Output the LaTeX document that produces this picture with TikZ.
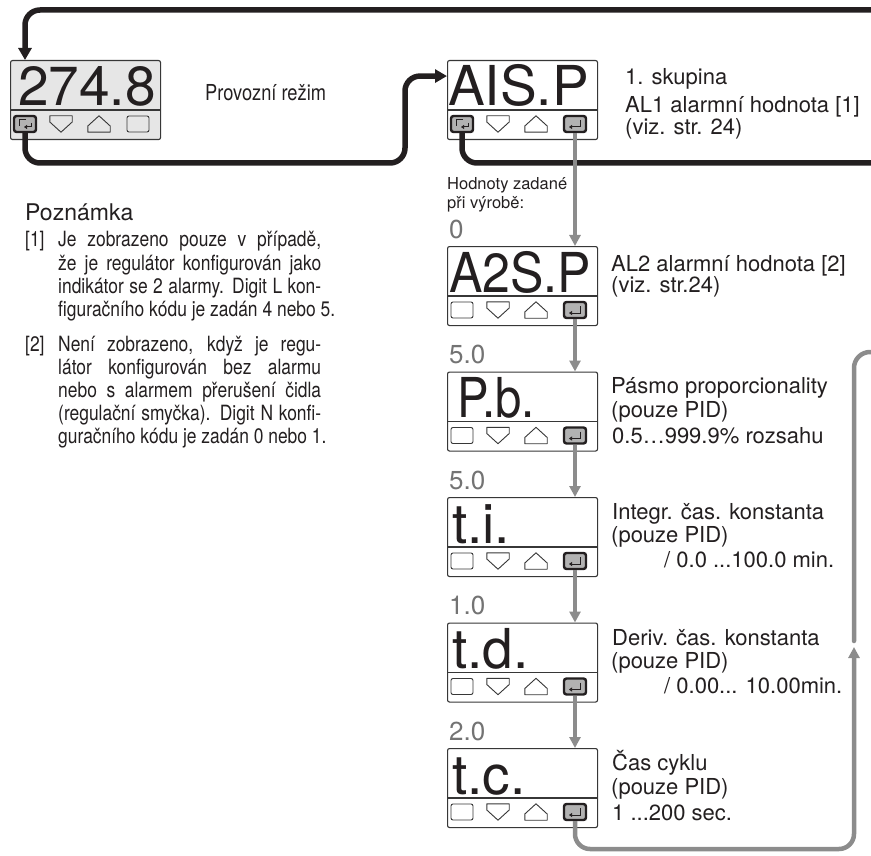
\documentclass[tikz,border=0pt]{standalone}
\usepackage{fontspec}
\setmainfont{TeX Gyre Heros}
\newfontfamily\narrowfont[FakeStretch=0.83]{TeX Gyre Heros}
\usepackage{graphicx}
\usepackage{tikz}
\usetikzlibrary{arrows.meta}
\definecolor{linkblack}{RGB}{35,31,32}
\definecolor{flowgray}{RGB}{140,140,140}
\definecolor{valgray}{RGB}{115,115,115}
\definecolor{boxgray}{RGB}{55,55,55}
\definecolor{lcdfill}{RGB}{230,230,230}
\definecolor{keyfill}{RGB}{178,178,178}
\newcommand{\noteline}[1]{\makebox[263pt][s]{#1}}
% one controller display: name, x, y, fill, reading, key 1, key 4, text offset
\newcommand{\lcdunit}[8]{%
  \node[lcdbox, fill=#4, anchor=north west] (#1) at (#2,#3) {};
  \node[lcdtext] (#1-txt) at ([shift={(#8,46)}]#1.north west) {#5};
  \draw[lcdline] ([yshift=-50pt]#1.north west) -- ([yshift=-50pt]#1.north east);
  \node[#6] (#1-k1) at ([shift={(15,64)}]#1.north west) {};
  \node[keyspace] (#1-k2) at ([shift={(51,64)}]#1.north west) {};
  \node[keyspace] (#1-k3) at ([shift={(89,64)}]#1.north west) {};
  \node[#7] (#1-k4) at ([shift={(128,64)}]#1.north west) {};
  \draw[keyline] (#1-k2.north west) -- (#1-k2.north east) -- ([yshift=2pt]#1-k2.east) -- (#1-k2.south) -- ([yshift=2pt]#1-k2.west) -- cycle;
  \draw[keyline] (#1-k3.south west) -- (#1-k3.south east) -- ([yshift=-2pt]#1-k3.east) -- (#1-k3.north) -- ([yshift=-2pt]#1-k3.west) -- cycle;
}

\begin{document}
\begin{tikzpicture}[x=1pt, y=-1pt,
    lcdbox/.style={rectangle, rounded corners=2pt, draw=boxgray, line width=1.1pt,
                minimum width=150pt, minimum height=79pt, inner sep=0pt},
    lcdtext/.style={anchor=base west, inner sep=0pt, text=linkblack, font=\fontsize{55}{55}\selectfont},
    lcdline/.style={draw=boxgray, line width=1.1pt},
    keyspace/.style={rectangle, minimum width=22pt, minimum height=16pt, inner sep=0pt},
    plainkey/.style={keyspace, draw=boxgray, line width=0.9pt, rounded corners=2pt},
    keyline/.style={draw=boxgray, line width=0.9pt, line join=round},
    darkkey/.style={keyspace, draw=linkblack, line width=2.4pt, rounded corners=2.5pt, fill=keyfill},
    enterkey/.style={darkkey, path picture={
        \draw[sharp corners, line width=1pt, linkblack, -{Triangle[length=3pt, width=4pt]}]
          ([shift={(5,-4)}]path picture bounding box.center) -- ([shift={(5,3)}]path picture bounding box.center)
          -- ([shift={(-6,3)}]path picture bounding box.center);}},
    loopkey/.style={darkkey, path picture={
        \draw[sharp corners, line width=1pt, linkblack]
          ([shift={(1,-4)}]path picture bounding box.center) -- ([shift={(-6,-4)}]path picture bounding box.center)
          -- ([shift={(-6,2)}]path picture bounding box.center);
        \draw[sharp corners, line width=1pt, linkblack, -{Triangle[length=3pt, width=4pt]}]
          ([shift={(6,-1)}]path picture bounding box.center) -- ([shift={(6,3)}]path picture bounding box.center)
          -- ([shift={(-1,3)}]path picture bounding box.center);}},
    desc/.style={anchor=base west, inner sep=0pt, text=linkblack, font=\fontsize{22}{26}\selectfont},
    notetext/.style={anchor=base west, inner sep=0pt, text=linkblack, font=\narrowfont\fontsize{21}{23}\selectfont},
    notehead/.style={anchor=base west, inner sep=0pt, text=linkblack, font=\fontsize{23}{25}\selectfont},
    factory/.style={anchor=base west, inner sep=0pt, text=linkblack, font=\fontsize{16.5}{18}\selectfont},
    preset/.style={anchor=base west, inner sep=0pt, text=valgray, font=\fontsize{26}{26}\selectfont},
    linkline/.style={draw=linkblack, line width=5.5pt},
    linkarrow/.style={linkline, -{Triangle[length=12pt, width=13pt]}},
    flowline/.style={draw=flowgray, line width=4.5pt},
    flowarrow/.style={flowline, -{Triangle[length=11pt, width=11pt]}}]
\useasboundingbox (0,0) rectangle (871,856);

\lcdunit{disp0}{10}{60}{lcdfill}{274.8}{loopkey}{plainkey}{8}
\lcdunit{aisp}{447}{60}{white}{AIS.P}{loopkey}{enterkey}{1}
\lcdunit{a2sp}{447}{246}{white}{\scalebox{0.91}[1]{A2S.P}}{plainkey}{enterkey}{2}
\lcdunit{pb}{447}{371.5}{white}{\scalebox{0.86}[1]{P.b.}}{plainkey}{enterkey}{10}
\lcdunit{ti}{447}{497}{white}{t.i.}{plainkey}{enterkey}{5}
\lcdunit{td}{447}{622.5}{white}{t.d.}{plainkey}{enterkey}{5}
\lcdunit{tc}{447}{748}{white}{t.c.}{plainkey}{enterkey}{5}

\node[notetext, font=\narrowfont\fontsize{22}{24}\selectfont] (mode) at (205,101) {Provozní režim};

\node[desc] (aisp-d1) at (625,85) {1. skupina};
\node[desc] (aisp-d2) at (625,113) {AL1 alarmní hodnota [1]};
\node[desc] (aisp-d3) at (625,135) {(viz. str. 24)};
\node[desc] (a2sp-d1) at (611,271) {AL2 alarmní hodnota [2]};
\node[desc] (a2sp-d2) at (611,292) {(viz. str.24)};
\node[desc] (pb-d1) at (611,393) {Pásmo proporcionality};
\node[desc] (pb-d2) at (611,417) {(pouze PID)};
\node[desc] (pb-d3) at (612,443) {0.5…999.9\% rozsahu};
\node[desc] (ti-d1) at (612,519) {Integr. čas. konstanta};
\node[desc] (ti-d2) at (611,542) {(pouze PID)};
\node[desc] (ti-d3) at (664,567) {/ 0.0 ...100.0 min.};
\node[desc] (td-d1) at (612,645) {Deriv. čas. konstanta};
\node[desc] (td-d2) at (611,668) {(pouze PID)};
\node[desc] (td-d3) at (664,693) {/ 0.00... 10.00min.};
\node[desc] (tc-d1) at (612,770) {Čas cyklu};
\node[desc] (tc-d2) at (611,794) {(pouze PID)};
\node[desc] (tc-d3) at (612,820) {1 ...200 sec.};

\node[factory] (fac1) at (447,190) {Hodnoty zadané};
\node[factory] (fac2) at (447,209) {při výrobě:};
\node[preset] (a2sp-val) at ([shift={(2,-8)}]a2sp.north west) {0};
\node[preset] (pb-val) at ([shift={(2,-8)}]pb.north west) {5.0};
\node[preset] (ti-val) at ([shift={(2,-8)}]ti.north west) {5.0};
\node[preset] (td-val) at ([shift={(2,-8)}]td.north west) {1.0};
\node[preset] (tc-val) at ([shift={(2,-8)}]tc.north west) {2.0};

\node[notehead] (note) at (25,221) {Poznámka};
\node[notetext] (note1) at (25,247) {[1]};
\node[notetext] (note1a) at (58,247) {\noteline{Je zobrazeno pouze v případě,}};
\node[notetext] (note1b) at (58,270) {\noteline{že je regulátor konfigurován jako}};
\node[notetext] (note1c) at (58,293) {\noteline{indikátor se 2 alarmy. Digit L kon-}};
\node[notetext] (note1d) at (58,316) {figuračního kódu je zadán 4 nebo 5.};
\node[notetext] (note2) at (25,351) {[2]};
\node[notetext] (note2a) at (58,351) {\noteline{Není zobrazeno, když je regu-}};
\node[notetext] (note2b) at (58,374) {\noteline{látor konfigurován bez alarmu}};
\node[notetext] (note2c) at (58,397) {\noteline{nebo s alarmem přerušení čidla}};
\node[notetext] (note2d) at (58,420) {\noteline{(regulační smyčka). Digit N konfi-}};
\node[notetext] (note2e) at (58,443) {guračního kódu je zadán 0 nebo 1.};

\coordinate (topin) at (880,10);
\coordinate (hop) at (405,163);
\coordinate (aispout) at (880,163);
\coordinate (loopturn) at (854,849);
\coordinate (loopend) at (854,647);
\coordinate (nextup) at (854,641);
\coordinate (nextout) at (880,352);

\draw[linkarrow, rounded corners=15pt] (topin) -| (disp0-k1 |- disp0.north);
\draw[linkarrow, rounded corners=15pt] (disp0-k1.south) |- (hop) |- ([yshift=24pt]aisp.west);
\draw[linkline, rounded corners=15pt] (aisp-k1.south) |- (aispout);

\draw[flowarrow] (aisp-k4.south) -- (aisp-k4.south |- a2sp.north);
\draw[flowarrow] (a2sp-k4.south) -- (a2sp-k4.south |- pb.north);
\draw[flowarrow] (pb-k4.south) -- (pb-k4.south |- ti.north);
\draw[flowarrow] (ti-k4.south) -- (ti-k4.south |- td.north);
\draw[flowarrow] (td-k4.south) -- (td-k4.south |- tc.north);
\draw[flowarrow, rounded corners=15pt] (tc-k4.south) |- (loopturn) -- (loopend);
\draw[flowline, line cap=round, rounded corners=16pt] (nextup) |- (nextout);
\end{tikzpicture}
\end{document}
